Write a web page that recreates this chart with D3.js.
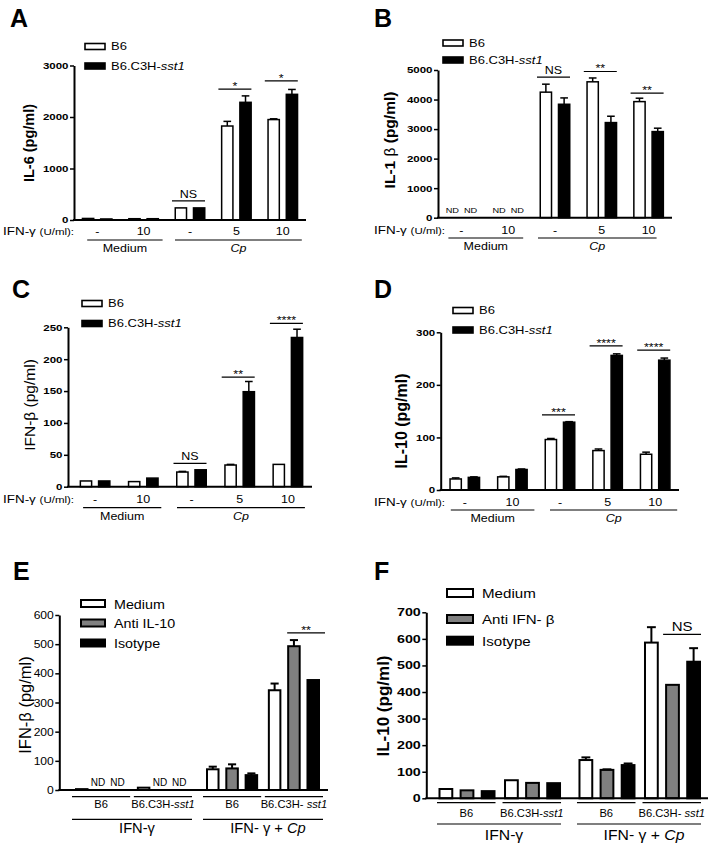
<!DOCTYPE html>
<html lang="en">
<head>
<meta charset="utf-8">
<title>Cytokine panels A-F</title>
<script src="https://cdn.jsdelivr.net/npm/d3@7"></script>
<style>
  body { margin: 0; background: #fff; }
  svg { display: block; font-family: "Liberation Sans", Arial, sans-serif; }
</style>
</head>
<body>
<script>

// ---------- data ----------
// A-D: two strains, five stimulation groups
var groups = ["med0", "med10", "cp0", "cp5", "cp10"];
var doseLabels = ["-", "10", "-", "5", "10"];

// A: IL-6
var il6B6 = [30, 25, 235, 1825, 1950];
var il6B6Err = [0, 0, 0, 90, 15];
var il6Sst1 = [20, 25, 235, 2285, 2440];
var il6Sst1Err = [0, 0, 0, 125, 95];
var sigA = [{g: 2, v: 370, t: "NS"}, {g: 3, v: 2540, t: "*"}, {g: 4, v: 2700, t: "*"}];

// B: IL-1beta (null = not detected)
var il1bB6 = [null, null, 4250, 4600, 3930];
var il1bB6Err = [0, 0, 270, 130, 115];
var il1bSst1 = [null, null, 3840, 3220, 2915];
var il1bSst1Err = [0, 0, 215, 215, 115];
var sigB = [{g: 2, v: 4760, t: "NS"}, {g: 3, v: 4950, t: "**"}, {g: 4, v: 4215, t: "**"}];

// C: IFN-beta
var ifnbB6 = [9, 8, 23, 34, 35];
var ifnbB6Err = [0, 0, 1, 1, 0];
var ifnbSst1 = [9, 13.5, 26.5, 149, 234];
var ifnbSst1Err = [0, 0, 0, 16, 13];
var sigC = [{g: 2, v: 36.5, t: "NS"}, {g: 3, v: 172, t: "**"}, {g: 4, v: 256, t: "****"}];

// D: IL-10
var il10B6 = [21, 25, 96, 75, 68];
var il10B6Err = [2, 1, 2, 3, 4];
var il10Sst1 = [24, 39, 129, 256, 247];
var il10Sst1Err = [1, 1, 1, 3, 4];
var sigD = [{g: 2, v: 143, t: "***"}, {g: 3, v: 274, t: "****"}, {g: 4, v: 266, t: "****"}];

// E-F: treatment x strain, three antibody conditions
var treatments = ["ifn", "ifncp"];
var strainKeys = ["b6", "sst1"];

// E: IFN-beta
var eMedium = [3, 8, 71, 342];
var eMediumErr = [0, 0, 9, 23];
var eAntiIL10 = [null, null, 74, 493];
var eAntiIL10Err = [0, 0, 14, 21];
var eIsotype = [null, null, 51, 377];
var eIsotypeErr = [0, 0, 6, 0];
var sigE = {g: 3, v: 539, t: "**"};

// F: IL-10
var fMedium = [35, 68, 144, 586];
var fMediumErr = [0, 0, 10, 58];
var fAntiIFNb = [30, 58, 107, 427];
var fAntiIFNbErr = [0, 0, 2, 0];
var fIsotype = [27, 57, 125, 514];
var fIsotypeErr = [0, 0, 6, 51];
var sigF = {g: 3, v: 617, t: "NS"};

var fills = ["#fff", "#808080", "#000"];

// ---------- drawing ----------
var svg = d3.select("body").append("svg").attr("width", 716).attr("height", 849);

// text with a horizontal stretch, parts = string or {t, it, fs, fw}
function label(g, x, y, parts, o) {
	o = Object.assign({size: 10, weight: "normal", anchor: "start", sx: 1.25}, o);
	var t = g.append("text")
		.attr("transform", "translate(" + x + "," + y + ") scale(" + o.sx + ",1)")
		.attr("font-size", o.size)
		.attr("font-weight", o.weight)
		.attr("text-anchor", o.anchor)
		.attr("fill", "#000");
	[].concat(parts).forEach(function(p) {
		if (typeof p === "string") p = {t: p};
		t.append("tspan").text(p.t)
			.attr("font-style", p.it ? "italic" : null)
			.attr("font-size", p.fs || null)
			.attr("font-weight", p.fw || null);
	});
	return t;
}

function yLabel(g, x, y, parts, size, weight) {
	var t = g.append("text")
		.attr("transform", "translate(" + x + "," + y + ") rotate(-90)")
		.attr("text-anchor", "middle")
		.attr("dy", "0.35em")
		.attr("font-size", size)
		.attr("font-weight", weight);
	[].concat(parts).forEach(function(p) {
		if (typeof p === "string") p = {t: p};
		t.append("tspan").text(p.t).attr("font-weight", p.fw || null);
	});
}

function hline(g, x1, x2, y, w) {
	g.append("line").attr("x1", x1).attr("x2", x2).attr("y1", y).attr("y2", y)
		.attr("stroke", "#000").attr("stroke-width", w || 1.2);
}

function drawYAxis(g, y, c) {
	var ax = g.append("g")
		.attr("transform", "translate(" + c.ax0 + ",0)")
		.call(d3.axisLeft(y).tickValues(d3.range(0, c.max + 1, c.step))
			.tickFormat(d3.format("d"))
			.tickSize(4).tickSizeOuter(0).tickPadding(1.5));
	ax.attr("font-family", null).attr("font-size", null);
	ax.select(".domain").attr("stroke", "#000").attr("stroke-width", 2);
	ax.selectAll(".tick line").attr("stroke", "#000").attr("stroke-width", 1.5);
	ax.selectAll(".tick text")
		.attr("fill", "#000")
		.attr("font-size", c.tickSize)
		.attr("font-weight", c.tickWeight)
		.attr("x", -5.5 / c.tickSx)
		.attr("transform", "scale(" + c.tickSx + ",1)");
	hline(g, c.ax0 - 1, c.ax1, c.y0, 2);
}

function drawBars(g, rows, y, bw, sw) {
	g.selectAll("rect.bar")
		.data(rows.filter(function(d) { return d.v != null; }))
		.join("rect")
		.attr("class", "bar")
		.attr("x", function(d) { return d.x + sw / 2; })
		.attr("width", bw - sw)
		.attr("y", function(d) { return y(d.v); })
		.attr("height", function(d) { return y(0) - y(d.v); })
		.attr("fill", function(d) { return fills[d.k]; })
		.attr("stroke", "#000")
		.attr("stroke-width", sw);

	var er = rows.filter(function(d) { return d.v != null && d.e > 0; });
	g.selectAll("line.err")
		.data(er)
		.join("line")
		.attr("class", "err")
		.attr("x1", function(d) { return d.x + bw / 2; })
		.attr("x2", function(d) { return d.x + bw / 2; })
		.attr("y1", function(d) { return y(d.v); })
		.attr("y2", function(d) { return y(d.v + d.e); })
		.attr("stroke", "#000").attr("stroke-width", sw);
	g.selectAll("line.cap")
		.data(er)
		.join("line")
		.attr("class", "cap")
		.attr("x1", function(d) { return d.x + bw * 0.2; })
		.attr("x2", function(d) { return d.x + bw * 0.8; })
		.attr("y1", function(d) { return y(d.v + d.e); })
		.attr("y2", function(d) { return y(d.v + d.e); })
		.attr("stroke", "#000").attr("stroke-width", sw);
}

function sigMark(g, x1, x2, yy, s, size, sx) {
	hline(g, x1, x2, yy, 1.2);
	var star = s.indexOf("*") >= 0;
	label(g, (x1 + x2) / 2, star ? yy + 1 : yy - 3, s,
		{size: star ? 10 : size, anchor: "middle", sx: sx});
}

// ---- A-D ----
function twoStrain(c) {
	var g = svg.append("g");
	var x = d3.scaleBand().domain(groups).range(c.band);
	var inner = d3.scaleBand().domain([0, 1]).range([-15.5, 15.5]).paddingInner(0.3);
	var y = d3.scaleLinear().domain([0, c.max]).range([c.y0, c.y1]);
	var cx = function(i) { return x(groups[i]) + x.bandwidth() / 2; };

	var rows = [];
	[[c.b6, c.b6Err], [c.sst1, c.sst1Err]].forEach(function(s, k) {
		s[0].forEach(function(v, i) {
			rows.push({x: cx(i) + inner(k), v: v, e: s[1][i], k: k * 2});
		});
	});
	drawBars(g, rows, y, inner.bandwidth(), 1.5);
	drawYAxis(g, y, c);

	// not detected
	rows.filter(function(d) { return d.v == null; }).forEach(function(d) {
		label(g, d.x + inner.bandwidth() / 2, c.y0 - 5, "ND", {size: 8, anchor: "middle", sx: 1.15});
	});

	c.sig.forEach(function(s) {
		sigMark(g, cx(s.g) - 18, cx(s.g) + 15, y(s.v), s.t, 10, 1.25);
	});

	// x labels
	label(g, c.ifnX, c.doseY, [{t: "IFN-γ ", fs: 10.5}, {t: "(U/ml):", fs: 9}], {sx: 1.28});
	doseLabels.forEach(function(d, i) {
		label(g, cx(i), c.doseY, d, {size: 10, anchor: "middle"});
	});
	var m1 = cx(0) + c.under[0][0], m2 = cx(1) + c.under[0][1];
	var p1 = cx(2) + c.under[1][0], p2 = cx(4) + c.under[1][1];
	hline(g, m1, m2, c.lineY, 1.2);
	hline(g, p1, p2, c.lineY, 1.2);
	label(g, (m1 + m2) / 2, c.condY, "Medium", {size: 10, anchor: "middle"});
	label(g, (p1 + p2) / 2, c.condY, {t: "Cp", it: true}, {size: 10, anchor: "middle"});

	// legend
	var legText = [["B6"], ["B6.C3H-", {t: "sst1", it: true}]];
	c.legY.forEach(function(ly, k) {
		g.append("rect").attr("x", c.legX).attr("y", ly - 3).attr("width", 20).attr("height", 6)
			.attr("fill", fills[k * 2]).attr("stroke", "#000").attr("stroke-width", 1.6);
		label(g, c.legX + 26, ly + 3.8, legText[k], {size: 10.4});
	});

	yLabel(g, c.ylab[0], c.ylab[1], c.ylabText, c.ylabSize, c.ylabWeight);
	g.append("text").attr("x", c.letter[0]).attr("y", c.letter[1])
		.attr("font-size", 25).attr("font-weight", "bold").text(c.name);
}

var abcd = {tickSize: 9, tickWeight: "bold", tickSx: 1.28};

twoStrain(Object.assign({}, abcd, {
	name: "A", letter: [10, 27],
	b6: il6B6, b6Err: il6B6Err, sst1: il6Sst1, sst1Err: il6Sst1Err, sig: sigA,
	band: [74, 306], ax0: 74, ax1: 306, y0: 220, y1: 65.5, max: 3000, step: 1000,
	legX: 85, legY: [46.5, 66],
	ylab: [29, 143], ylabText: "IL-6 (pg/ml)", ylabSize: 14.5, ylabWeight: "bold",
	ifnX: 3, doseY: 235, lineY: 240, condY: 252, under: [[-10, 19], [-15, 19]]
}));

twoStrain(Object.assign({}, abcd, {
	name: "B", letter: [374, 27],
	b6: il1bB6, b6Err: il1bB6Err, sst1: il1bSst1, sst1Err: il1bSst1Err, sig: sigB,
	band: [438, 672], ax0: 438, ax1: 672, y0: 217.7, y1: 70, max: 5000, step: 1000,
	legX: 443, legY: [43, 60],
	ylab: [390, 140], ylabText: ["IL-1", {t: " β", fw: "normal"}, " (pg/ml)"], ylabSize: 15.5, ylabWeight: "bold",
	ifnX: 374, doseY: 234, lineY: 238, condY: 250, under: [[-13, 15], [-17, 8]]
}));

twoStrain(Object.assign({}, abcd, {
	name: "C", letter: [12, 298],
	b6: ifnbB6, b6Err: ifnbB6Err, sst1: ifnbSst1, sst1Err: ifnbSst1Err, sig: sigC,
	band: [71, 312], ax0: 68, ax1: 312, y0: 486.7, y1: 327.3, max: 250, step: 50,
	legX: 82, legY: [303.5, 323.5],
	ylab: [29.5, 405], ylabText: "IFN-β (pg/ml)", ylabSize: 15.5, ylabWeight: "normal",
	ifnX: 3, doseY: 503, lineY: 507.7, condY: 520, under: [[-12, 18], [-14.5, 17]]
}));

twoStrain(Object.assign({}, abcd, {
	name: "D", letter: [374, 298],
	b6: il10B6, b6Err: il10B6Err, sst1: il10Sst1, sst1Err: il10Sst1Err, sig: sigD,
	band: [441, 679], ax0: 440.7, ax1: 679, y0: 490, y1: 332.3, max: 300, step: 100,
	legX: 453, legY: [310.5, 330],
	ylab: [401, 421], ylabText: "IL-10 (pg/ml)", ylabSize: 16, ylabWeight: "bold",
	ifnX: 374, doseY: 506, lineY: 510, condY: 522, under: [[-14, 22], [-10, 22]]
}));

// ---- E-F ----
function threeTreat(c) {
	var g = svg.append("g");
	var outer = d3.scaleBand().domain(treatments).range(c.band).paddingInner(c.padO);
	var mid = d3.scaleBand().domain(strainKeys).range([0, outer.bandwidth()]).paddingInner(c.padM);
	var bars = d3.scaleBand().domain([0, 1, 2]).range([c.barIn[0], mid.bandwidth() + c.barIn[1]]).paddingInner(0.3);
	var y = d3.scaleLinear().domain([0, c.max]).range([c.y0, c.y1]);
	var gx = function(i) { return outer(treatments[Math.floor(i / 2)]) + mid(strainKeys[i % 2]); };

	var rows = [];
	c.series.forEach(function(s, k) {
		s[0].forEach(function(v, i) {
			rows.push({x: gx(i) + bars(k), v: v, e: s[1][i], k: k});
		});
	});
	drawBars(g, rows, y, bars.bandwidth(), 2);
	drawYAxis(g, y, c);

	rows.filter(function(d) { return d.v == null; }).forEach(function(d) {
		label(g, d.x + bars.bandwidth() / 2 - 3, c.y0 - 4, "ND", {size: 10, anchor: "middle", sx: 1.0});
	});

	var bw = bars.bandwidth();
	sigMark(g, gx(c.sig.g) + bars(1) + c.sigOff[0], gx(c.sig.g) + bars(2) + bw + c.sigOff[1],
		y(c.sig.v), c.sig.t, c.sigSize, 1.25);

	// strain and treatment labels
	for (var i = 0; i < 4; i++) {
		var x0 = gx(i);
		hline(g, x0, x0 + mid.bandwidth(), c.strainLine, 1.2);
		label(g, x0 + mid.bandwidth() / 2, c.strainY,
			i % 2 ? ["B6.C3H-" + (i > 1 ? " " : ""), {t: "sst1", it: true}] : "B6",
			{size: 10, anchor: "middle", sx: 1.12});
	}
	var treatText = ["IFN-γ", ["IFN- γ + ", {t: "Cp", it: true}]];
	treatments.forEach(function(t, j) {
		hline(g, outer(t), outer(t) + outer.bandwidth(), c.treatLine, 1.2);
		label(g, outer(t) + outer.bandwidth() / 2 + 5, c.treatY, treatText[j],
			{size: c.treatSize, anchor: "middle", sx: 1.05});
	});

	// legend
	c.legY.forEach(function(ly, k) {
		g.append("rect").attr("x", c.legX).attr("y", ly - c.legH / 2).attr("width", c.legW).attr("height", c.legH)
			.attr("fill", fills[k]).attr("stroke", "#000").attr("stroke-width", 2);
		label(g, c.legX + c.legW + 9, ly + 5, c.legText[k], {size: c.legSize, sx: c.legSx});
	});

	yLabel(g, c.ylab[0], c.ylab[1], c.ylabText, c.ylabSize, c.ylabWeight);
	g.append("text").attr("x", c.letter[0]).attr("y", c.letter[1])
		.attr("font-size", 25).attr("font-weight", "bold").text(c.name);
}

threeTreat({
	name: "E", letter: [13, 580],
	series: [[eMedium, eMediumErr], [eAntiIL10, eAntiIL10Err], [eIsotype, eIsotypeErr]],
	sig: sigE, sigOff: [0, 5], sigSize: 10,
	band: [72, 323], padO: 0.084, padM: 0.06, barIn: [3, -3],
	ax0: 59.3, ax1: 328, y0: 790, y1: 615, max: 600, step: 100,
	tickSize: 11, tickWeight: "normal", tickSx: 1.1,
	strainLine: 796.7, strainY: 808, treatLine: 819.3, treatY: 833, treatSize: 14,
	legX: 81, legY: [603.5, 623, 643], legW: 24, legH: 7, legSize: 13, legSx: 1.1,
	legText: ["Medium", "Anti IL-10", "Isotype"],
	ylab: [25, 705], ylabText: "IFN-β (pg/ml)", ylabSize: 16.5, ylabWeight: "normal"
});

threeTreat({
	name: "F", letter: [374, 580],
	series: [[fMedium, fMediumErr], [fAntiIFNb, fAntiIFNbErr], [fIsotype, fIsotypeErr]],
	sig: sigF, sigOff: [-2, 0], sigSize: 12,
	band: [437, 701], padO: 0.114, padM: 0.107, barIn: [1.5, 0],
	ax0: 426.3, ax1: 708, y0: 798.3, y1: 612.3, max: 700, step: 100,
	tickSize: 11, tickWeight: "bold", tickSx: 1.3,
	strainLine: 802.7, strainY: 817, treatLine: 824, treatY: 840, treatSize: 15,
	legX: 447, legY: [593, 619, 640.7], legW: 26, legH: 8, legSize: 13.5, legSx: 1.12,
	legText: ["Medium", "Anti IFN- β", "Isotype"],
	ylab: [383, 706], ylabText: "IL-10 (pg/ml)", ylabSize: 17, ylabWeight: "bold"
});

</script>
</body>
</html>
